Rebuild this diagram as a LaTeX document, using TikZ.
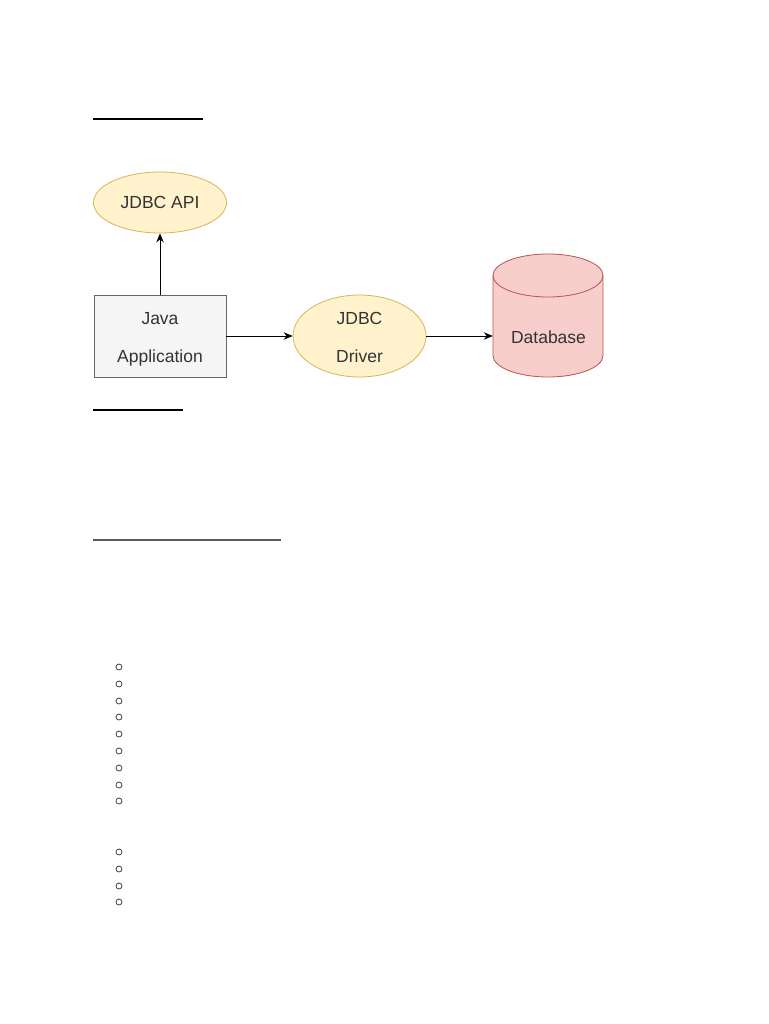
\documentclass[tikz,border=0pt]{standalone}
\usepackage{fontspec}
\setmainfont{Liberation Sans}
\usetikzlibrary{shapes.geometric,arrows.meta}
\definecolor{ylfill}{HTML}{FFF2CC}
\definecolor{yldraw}{HTML}{D6B656}
\definecolor{rdfill}{HTML}{F8CECC}
\definecolor{rddraw}{HTML}{B85450}
\definecolor{gyfill}{HTML}{F5F5F5}
\definecolor{gydraw}{HTML}{666666}
\definecolor{txt}{HTML}{333333}
\newcommand{\topstr}{\rule{0pt}{19pt}}
\newcommand{\botstr}{\rule[-4pt]{0pt}{4pt}}
\tikzset{
  lbl/.style={font=\fontsize{17.5}{21}\selectfont, text=txt, align=center},
  oval/.style={ellipse, draw=yldraw, fill=ylfill, line width=0.8pt, inner sep=0pt, lbl},
  appbox/.style={rectangle, draw=gydraw, fill=gyfill, line width=0.8pt, inner sep=0pt, lbl},
  conn/.style={-{Stealth[length=9pt,width=7.5pt]}, line width=1pt, black},
  bul/.style={circle, draw=black!75, line width=0.8pt, minimum size=6pt, inner sep=0pt},
}
\begin{document}
\begin{tikzpicture}[x=1pt,y=-1pt]
\useasboundingbox (0,0) rectangle (768,1024);
% rules
\coordinate (r1a) at (93,119); \coordinate (r1b) at (203,119);
\draw[line width=1.2pt] (r1a) -- (r1b);
\coordinate (r2a) at (93,410); \coordinate (r2b) at (183,410);
\draw[line width=2pt] (r2a) -- (r2b);
\coordinate (r3a) at (93,540); \coordinate (r3b) at (281,540);
\draw[line width=1.8pt, black!65] (r3a) -- (r3b);
% nodes
\node[oval, minimum width=133pt, minimum height=61pt] (api) at (160,202.5) {JDBC API};
\node[appbox, minimum width=132pt, minimum height=82pt] (app) at (160,336) {\topstr Java\\[17pt]Application\botstr};
\node[oval, inner ysep=-15pt, minimum width=133pt, minimum height=82pt] (drv) at (359.5,336) {\topstr JDBC\\[17pt]Driver\botstr};
% database cylinder
\node[minimum width=110pt, minimum height=123pt, inner sep=0pt] (db) at (548,315.5) {};
\draw[draw=rddraw, fill=rdfill, line width=0.8pt]
  (493,275.5) -- (493,355.5) arc[start angle=180, end angle=0, x radius=55, y radius=21.5]
  -- (603,275.5) arc[start angle=0, end angle=-180, x radius=55, y radius=21.5] -- cycle;
\draw[draw=rddraw, line width=0.8pt] (493,275.5) arc[start angle=180, end angle=0, x radius=55, y radius=21.5];
\node[lbl] (dbt) at (548.5,337) {Database};
% connectors
\draw[conn] (app.north) -- (api.south);
\draw[conn] (app.east) -- (drv.west);
\draw[conn] (drv.east) -- (drv.east -| db.west);
% bullets
\foreach \i/\y in {1/667,2/684,3/701,4/717,5/734,6/751,7/768,8/785,9/801,10/852,11/869,12/886,13/902}
  \node[bul] (b\i) at (119,\y) {};
\end{tikzpicture}
\end{document}
